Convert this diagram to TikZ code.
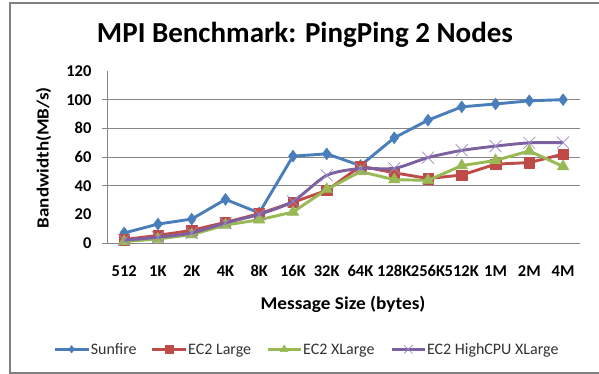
\documentclass[tikz,border=0pt]{standalone}
\usepackage{fontspec}
\setmainfont{Carlito}
\usetikzlibrary{plotmarks}
\definecolor{sunblue}{HTML}{4A7EBB}
\definecolor{lgred}{HTML}{BE4B48}
\definecolor{xlgreen}{HTML}{98B954}
\definecolor{hcpurple}{HTML}{7D60A0}
\definecolor{hcmark}{HTML}{9A88C4}
\definecolor{gridgray}{HTML}{868686}
\definecolor{framegray}{HTML}{808080}
\tikzset{
  gridline/.style={draw=gridgray, line width=1pt},
  ticklab/.style={font=\bfseries\fontsize{16.5}{18}\selectfont, inner sep=0pt},
  legtext/.style={font=\fontsize{16}{18}\selectfont, text=black!80, inner sep=0pt, anchor=base west},
  sunser/.style={draw=sunblue, line width=2.9pt, line join=round, mark=diamond*, mark size=6pt, mark options={fill=sunblue, draw=sunblue, line width=0.4pt}},
  lgser/.style={draw=lgred, line width=2.9pt, line join=round, mark=square*, mark size=5.2pt, mark options={fill=lgred, draw=lgred, line width=0.4pt}},
  xlser/.style={draw=xlgreen, line width=2.9pt, line join=round, mark=triangle*, mark size=6.7pt, mark options={fill=xlgreen, draw=xlgreen, line width=0.4pt}},
  hcser/.style={draw=hcpurple, line width=2.9pt, line join=round, mark=x, mark size=8.5pt, mark options={draw=hcmark, line width=0.7pt}},
}
\begin{document}
\begin{tikzpicture}[x=1pt, y=-1pt]
\useasboundingbox (0,0) rectangle (599,374);
\fill[white] (0,0) rectangle (599,374);
\begin{scope}
\clip (0,0) rectangle (599,374);
\draw[draw=framegray, line width=1.5pt] (10,3) rectangle (640,373);
\end{scope}

% title
\node[font=\bfseries\fontsize{29}{31}\selectfont, anchor=base, inner sep=0pt] (title) at (305,42.7) {MPI Benchmark: PingPing 2 Nodes};

% axis titles
\node[font=\bfseries\fontsize{18}{20}\selectfont, anchor=base, inner sep=0pt] (xtitle) at (343,309.5) {\scalebox{1.07}[1]{Message Size (bytes)}};
\node[font=\bfseries\fontsize{17}{19}\selectfont, anchor=base, rotate=90, inner sep=0pt] (ytitle) at (48.5,157.8) {\scalebox{1.12}[1]{Bandwidth(MB/s)}};

\begin{scope}[shift={(107.3,243)}, x=33.76pt, y=1.4333pt]
  \foreach \v in {40,60,80,100} \draw[gridline] (0,\v) -- (14,\v);
  \draw[gridline] (-0.157,0) -- (14,0);
  \draw[gridline] (0,0) -- (0,120);
  \foreach \v in {40,60,80,100} \draw[gridline] (-0.157,\v) -- (0,\v);
  \foreach \v in {0,20,...,120} \node[ticklab, anchor=east] (ytick\v) at (-0.465,\v) {\v};
  \foreach \lab [count=\i from 0] in {512,1K,2K,4K,8K,16K,32K,64K,128K,256K,512K,1M,2M,4M}
    \node[ticklab, anchor=base] (xtick\i) at (\i+0.5,-23.3) {\lab};

  \draw[sunser] plot coordinates {(0.5,7) (1.5,13.2) (2.5,16.7) (3.5,30.4) (4.5,21) (5.5,60.6) (6.5,62.2) (7.5,54) (8.5,73.4) (9.5,85.7) (10.5,95) (11.5,97) (12.5,99.2) (13.5,100)};
  \draw[lgser] plot coordinates {(0.5,2.4) (1.5,5.3) (2.5,8.8) (3.5,14.4) (4.5,20.4) (5.5,28.4) (6.5,36.7) (7.5,53.6) (8.5,49) (9.5,45) (10.5,47.4) (11.5,55) (12.5,56.1) (13.5,62)};
  \draw[xlser] plot coordinates {(0.5,1) (1.5,2.8) (2.5,5.8) (3.5,12.5) (4.5,16.2) (5.5,21.6) (6.5,37.4) (7.5,49.8) (8.5,44.2) (9.5,43.7) (10.5,54) (11.5,57.6) (12.5,64.2) (13.5,53.4)};
  \draw[hcser] plot[smooth, tension=0.45] coordinates {(0.5,2) (1.5,4) (2.5,7) (3.5,14) (4.5,20) (5.5,29) (6.5,47.2) (7.5,52) (8.5,52) (9.5,59.6) (10.5,64.6) (11.5,67.6) (12.5,69.9) (13.5,70)};
\end{scope}

% legend
\coordinate (l1a) at (54.6,349.3); \coordinate (l1b) at (88.6,349.3);
\draw[draw=sunblue, line width=2.9pt] (l1a) -- (l1b);
\draw[sunser, mark size=3.8pt] plot coordinates {(71.6,349.3)};
\node[legtext] (leg1) at (90.6,354.5) {Sunfire};

\coordinate (l2a) at (152,349.3); \coordinate (l2b) at (186,349.3);
\draw[draw=lgred, line width=2.9pt] (l2a) -- (l2b);
\draw[lgser, mark size=3.8pt] plot coordinates {(169,349.3)};
\node[legtext] (leg2) at (188,354.5) {EC2 Large};

\coordinate (l3a) at (267.5,349.3); \coordinate (l3b) at (301,349.3);
\draw[draw=xlgreen, line width=2.9pt] (l3a) -- (l3b);
\draw[xlser, mark size=4.5pt] plot coordinates {(284.2,349.3)};
\node[legtext] (leg3) at (303,354.5) {EC2 XLarge};

\coordinate (l4a) at (391.7,349.3); \coordinate (l4b) at (425,349.3);
\draw[draw=hcpurple, line width=2.9pt] (l4a) -- (l4b);
\draw[hcser, mark size=6pt] plot coordinates {(408.3,349.3)};
\node[legtext] (leg4) at (426.8,354.5) {EC2 HighCPU XLarge};
\end{tikzpicture}
\end{document}
